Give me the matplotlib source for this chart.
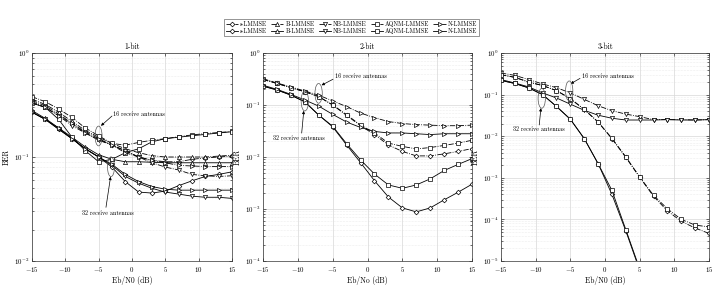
import numpy as np
import matplotlib
matplotlib.use('Agg')
import matplotlib.pyplot as plt
from matplotlib.patches import Ellipse
from matplotlib.lines import Line2D

plt.rcParams['font.family'] = ['cmr10', 'DejaVu Serif']
plt.rcParams['mathtext.fontset'] = 'cm'
plt.rcParams['axes.formatter.use_mathtext'] = True
plt.rcParams['axes.unicode_minus'] = False

snr = [-15, -13, -11, -9, -7, -5, -3, -1, 1, 3, 5, 7, 9, 11, 13, 15]

methods = ['s-LMMSE', 'B-LMMSE', 'NB-LMMSE', 'AQNM-LMMSE', 'N-LMMSE']
markers = {'s-LMMSE': 'D', 'B-LMMSE': '^', 'NB-LMMSE': 'v',
           'AQNM-LMMSE': 's', 'N-LMMSE': '>'}

# 1-bit, 16 receive antennas (dash-dot) and 32 receive antennas (solid)
ber1_16 = {
    's-LMMSE':    [0.35, 0.31, 0.26, 0.21, 0.175, 0.15, 0.13, 0.115, 0.10, 0.093, 0.090, 0.090, 0.095, 0.098, 0.100, 0.102],
    'B-LMMSE':    [0.36, 0.32, 0.27, 0.22, 0.18, 0.155, 0.135, 0.12, 0.11, 0.103, 0.100, 0.100, 0.100, 0.100, 0.102, 0.104],
    'NB-LMMSE':   [0.34, 0.30, 0.25, 0.20, 0.17, 0.145, 0.13, 0.115, 0.10, 0.088, 0.080, 0.075, 0.068, 0.066, 0.065, 0.066],
    'AQNM-LMMSE': [0.38, 0.34, 0.29, 0.24, 0.19, 0.16, 0.135, 0.13, 0.138, 0.145, 0.150, 0.157, 0.163, 0.168, 0.172, 0.176],
    'N-LMMSE':    [0.33, 0.30, 0.25, 0.21, 0.17, 0.148, 0.13, 0.11, 0.10, 0.093, 0.088, 0.083, 0.082, 0.081, 0.081, 0.081],
}
ber1_32 = {
    's-LMMSE':    [0.27, 0.23, 0.185, 0.15, 0.12, 0.10, 0.080, 0.058, 0.046, 0.045, 0.047, 0.053, 0.059, 0.065, 0.068, 0.072],
    'B-LMMSE':    [0.28, 0.235, 0.19, 0.155, 0.125, 0.105, 0.095, 0.090, 0.090, 0.089, 0.088, 0.088, 0.088, 0.088, 0.088, 0.088],
    'NB-LMMSE':   [0.27, 0.23, 0.185, 0.15, 0.12, 0.10, 0.083, 0.065, 0.056, 0.050, 0.046, 0.044, 0.042, 0.041, 0.041, 0.040],
    'AQNM-LMMSE': [0.33, 0.30, 0.23, 0.155, 0.115, 0.090, 0.095, 0.11, 0.12, 0.14, 0.150, 0.155, 0.160, 0.165, 0.170, 0.175],
    'N-LMMSE':    [0.27, 0.23, 0.19, 0.15, 0.12, 0.10, 0.085, 0.068, 0.058, 0.052, 0.049, 0.048, 0.048, 0.048, 0.048, 0.048],
}

# 2-bit
ber2_16 = {
    's-LMMSE':    [0.31, 0.26, 0.215, 0.18, 0.145, 0.10, 0.063, 0.040, 0.027, 0.017, 0.0128, 0.0105, 0.0105, 0.0115, 0.0128, 0.0145],
    'AQNM-LMMSE': [0.31, 0.26, 0.215, 0.18, 0.145, 0.10, 0.065, 0.041, 0.029, 0.0185, 0.016, 0.0143, 0.0152, 0.0167, 0.0185, 0.021],
    'N-LMMSE':    [0.32, 0.265, 0.222, 0.186, 0.154, 0.120, 0.093, 0.070, 0.057, 0.048, 0.044, 0.042, 0.041, 0.040, 0.040, 0.041],
}
ber2_32 = {
    's-LMMSE':    [0.23, 0.195, 0.155, 0.115, 0.064, 0.038, 0.017, 0.0078, 0.0035, 0.0017, 0.00105, 0.00088, 0.00105, 0.0015, 0.0021, 0.0030],
    'AQNM-LMMSE': [0.23, 0.195, 0.155, 0.115, 0.064, 0.039, 0.018, 0.0088, 0.0047, 0.0029, 0.0025, 0.0029, 0.0038, 0.0055, 0.0072, 0.0093],
    'N-LMMSE':    [0.24, 0.20, 0.16, 0.125, 0.095, 0.066, 0.047, 0.037, 0.031, 0.029, 0.029, 0.028, 0.027, 0.028, 0.028, 0.028],
}

# 3-bit
nan = np.nan
ber3_16 = {
    's-LMMSE':    [0.30, 0.26, 0.20, 0.165, 0.125, 0.080, 0.044, 0.022, 0.0087, 0.0031, 0.00103, 0.00036, 0.00016, 9.0e-5, 6.2e-5, 4.6e-5],
    'NB-LMMSE':   [0.33, 0.29, 0.23, 0.18, 0.147, 0.11, 0.077, 0.054, 0.041, 0.034, 0.0295, 0.025, 0.025, 0.025, 0.0245, 0.025],
    'AQNM-LMMSE': [0.30, 0.26, 0.20, 0.165, 0.125, 0.080, 0.044, 0.022, 0.0089, 0.0032, 0.00105, 0.00038, 0.00018, 1.0e-4, 7.3e-5, 6.6e-5],
}
ber3_32 = {
    's-LMMSE':    [0.22, 0.185, 0.145, 0.10, 0.052, 0.0256, 0.0088, 0.0022, 4.0e-4, 5.3e-5, 6.0e-6, nan, nan, nan, nan, nan],
    'NB-LMMSE':   [0.23, 0.19, 0.153, 0.11, 0.083, 0.059, 0.042, 0.032, 0.027, 0.0245, 0.0245, 0.0245, 0.025, 0.0245, 0.0245, 0.025],
    'AQNM-LMMSE': [0.22, 0.185, 0.145, 0.10, 0.052, 0.0256, 0.0088, 0.0022, 5.0e-4, 5.7e-5, 6.5e-6, nan, nan, nan, nan, nan],
}

titles = ['1-bit', '2-bit', '3-bit']
xlabels = ['Eb/N0 (dB)', 'Eb/No (dB)', 'Eb/N0 (dB)']
ylims = [(1e-2, 1), (1e-4, 1), (1e-5, 1)]
data = [(ber1_16, ber1_32), (ber2_16, ber2_32), (ber3_16, ber3_32)]

# annotation layout in axes fraction: ellipse16, text16, arrow16 (from, to), ellipse32, text32, arrow32
notes = [
    dict(e16=(0.333, 0.601), t16=(0.405, 0.707), a16=((0.40, 0.697), (0.345, 0.650)),
         e32=(0.395, 0.453), t32=(0.25, 0.232), a32=((0.37, 0.258), (0.393, 0.405))),
    dict(e16=(0.266, 0.806), t16=(0.345, 0.889), a16=((0.335, 0.874), (0.280, 0.845)),
         e32=(0.200, 0.769), t32=(0.048, 0.590), a32=((0.185, 0.615), (0.195, 0.722))),
    dict(e16=(0.328, 0.818), t16=(0.388, 0.891), a16=((0.380, 0.878), (0.335, 0.852)),
         e32=(0.196, 0.782), t32=(0.058, 0.635), a32=((0.184, 0.654), (0.192, 0.735))),
]

fig = plt.figure(figsize=(7.2, 2.89), dpi=100)
positions = [[0.0444, 0.0969, 0.2778, 0.7197],
             [0.3653, 0.0969, 0.2903, 0.7197],
             [0.6958, 0.0969, 0.2889, 0.7197]]

lw = 0.6
ms = 3.0
fs = 5

def mk_size(m):
    return ms * 0.8 if markers[m] == 'D' else ms

for i in range(3):
    ax = fig.add_axes(positions[i])
    d16, d32 = data[i]
    for m in methods:
        if m in d16:
            ax.semilogy(snr, d16[m], linestyle='-.', color='k', lw=lw, marker=markers[m],
                        ms=mk_size(m), mfc='white', mec='k', mew=0.5)
        if m in d32:
            ax.semilogy(snr, d32[m], linestyle='-', color='k', lw=lw, marker=markers[m],
                        ms=mk_size(m), mfc='white', mec='k', mew=0.5)
    ax.set_xlim(-15, 15)
    ax.set_ylim(*ylims[i])
    ax.set_xticks([-15, -10, -5, 0, 5, 10, 15])
    ax.grid(True, which='major', color='#d8d8d8', lw=0.5, ls='-')
    ax.grid(True, which='minor', axis='y', color='#dddddd', lw=0.4, ls=':')
    ax.set_axisbelow(True)
    ax.tick_params(which='both', direction='in', top=True, right=True, labelsize=fs,
                   width=0.4)
    ax.tick_params(axis='x', pad=3)
    ax.tick_params(axis='y', pad=2)
    ax.tick_params(which='major', length=2.5)
    ax.tick_params(which='minor', length=1.5)
    for s in ax.spines.values():
        s.set_linewidth(0.5)
        s.set_color('#333333')
    ax.set_title(titles[i], fontsize=fs + 0.5, pad=3)
    ax.set_xlabel(xlabels[i], fontsize=fs + 0.5, labelpad=1)
    ax.set_ylabel('BER', fontsize=fs + 0.5, labelpad=2)

    n = notes[i]
    for key in ('e16', 'e32'):
        ax.add_patch(Ellipse(n[key], 0.035, 0.095, transform=ax.transAxes,
                             fill=False, ec='#555555', lw=0.5, zorder=5))
    ax.text(n['t16'][0], n['t16'][1], '16 receive antennas', transform=ax.transAxes,
            fontsize=4.4, ha='left', va='center')
    ax.text(n['t32'][0], n['t32'][1], '32 receive antennas', transform=ax.transAxes,
            fontsize=4.4, ha='left', va='center')
    for key in ('a16', 'a32'):
        ax.annotate('', xy=n[key][1], xycoords='axes fraction', xytext=n[key][0],
                    textcoords='axes fraction',
                    arrowprops=dict(arrowstyle='-|>', lw=0.5, color='k', mutation_scale=4,
                                    shrinkA=0, shrinkB=0))

# legend: dash-dot row on top, solid row below
handles, labels = [], []
for m in methods:
    for style in ('-.', '-'):
        handles.append(Line2D([], [], color='k', lw=lw, ls=style, marker=markers[m],
                              ms=mk_size(m), mfc='white', mec='k', mew=0.5))
        labels.append(m)
leg = fig.legend(handles, labels, ncol=5, loc='upper center', bbox_to_anchor=(0.488, 0.944),
                 fontsize=4.4, frameon=True, fancybox=False, edgecolor='#444444',
                 handlelength=2.0, handletextpad=0.3, columnspacing=0.7,
                 labelspacing=0.2, borderpad=0.3)
leg.get_frame().set_linewidth(0.5)

fig.savefig('out.png', dpi=100)
